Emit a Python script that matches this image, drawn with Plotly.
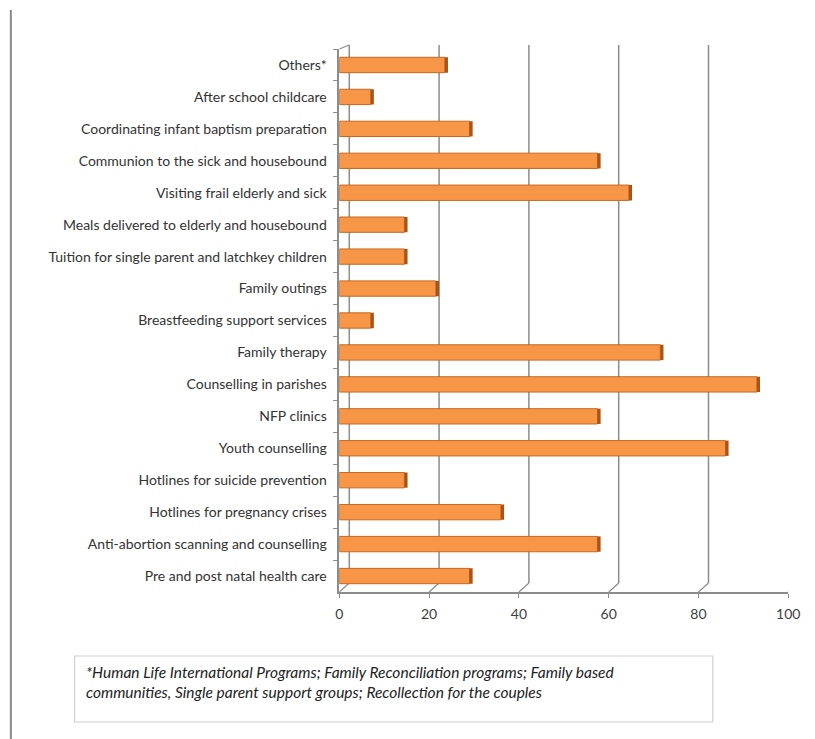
import plotly.graph_objects as go

categories = [
    "Others*",
    "After school childcare",
    "Coordinating infant baptism preparation",
    "Communion to the sick and housebound",
    "Visiting frail elderly and sick",
    "Meals delivered to elderly and housebound",
    "Tuition for single parent and latchkey children",
    "Family outings",
    "Breastfeeding support services",
    "Family therapy",
    "Counselling in parishes",
    "NFP clinics",
    "Youth counselling",
    "Hotlines for suicide prevention",
    "Hotlines for pregnancy crises",
    "Anti-abortion scanning and counselling",
    "Pre and post natal health care",
]
values = [23.5, 7, 29, 57.5, 64.5, 14.5, 14.5, 21.5, 7, 71.5, 93, 57.5, 86, 14.5, 36, 57.5, 29]
x_ticks = [0, 20, 40, 60, 80, 100]
footnote = ("*Human Life International Programs; Family Reconciliation programs; Family based<br>"
            "communities, Single parent support groups; Recollection for the couples")

W, H = 815, 739
def px(x):
    return x / W
def py(y):
    return 1 - y / H

FONT = "Lato"
ORANGE = "#F79646"
EDGE = "#c8671f"
SIDE = "#a6541a"
GRID = "#8c8c8c"

fig = go.Figure()
fig.add_trace(go.Bar(
    y=categories, x=values, base=0, orientation="h",
    marker=dict(color=ORANGE, line=dict(color=EDGE, width=1)),
    width=0.48, hoverinfo="skip", showlegend=False,
))
fig.add_trace(go.Bar(
    y=categories, x=[0.7] * len(values), base=values, orientation="h",
    marker=dict(color=SIDE, line=dict(width=0)),
    width=0.48, hoverinfo="skip", showlegend=False,
))

front_bottom = 592
front_top = 49
back_bottom = 583
back_top = 45
dx = 10

shapes = []
for v in x_ticks:
    shapes.append(dict(type="line", xref="x", yref="paper", xsizemode="pixel", xanchor=v,
                       x0=dx, x1=dx, y0=py(back_bottom), y1=py(back_top),
                       line=dict(color=GRID, width=1.5), layer="below"))
    shapes.append(dict(type="line", xref="x", yref="paper", xsizemode="pixel", xanchor=v,
                       x0=0, x1=dx, y0=py(front_bottom), y1=py(back_bottom),
                       line=dict(color=GRID, width=1.2), layer="below"))
shapes.append(dict(type="line", xref="x", yref="paper", xsizemode="pixel", xanchor=0,
                   x0=0, x1=dx, y0=py(front_top), y1=py(back_top),
                   line=dict(color=GRID, width=1.2)))
shapes.append(dict(type="line", xref="paper", yref="paper",
                   x0=px(7), x1=px(7), y0=py(10), y1=0,
                   line=dict(color="#8a8a8a", width=2)))
shapes.append(dict(type="rect", xref="paper", yref="paper",
                   x0=px(72), x1=px(723), y0=py(722), y1=py(656),
                   line=dict(color="#cfcfcf", width=1.2), fillcolor="white"))

fig.add_annotation(
    xref="paper", yref="paper", x=px(82), y=py(661), xanchor="left", yanchor="top",
    text="<i>" + footnote + "</i>", showarrow=False, align="left",
    font=dict(family=FONT, size=15.5, color="#222222"),
)

fig.update_layout(
    width=W, height=H,
    margin=dict(l=0, r=0, t=0, b=0),
    paper_bgcolor="white", plot_bgcolor="rgba(0,0,0,0)",
    barmode="overlay",
    shapes=shapes,
    xaxis=dict(
        domain=[px(342), px(800)], range=[0, 100],
        tickvals=x_ticks, ticktext=[str(t) for t in x_ticks],
        showgrid=False, zeroline=False,
        showline=True, linecolor=GRID, linewidth=1.5,
        ticks="outside", ticklen=4, tickcolor=GRID,
        tickfont=dict(family=FONT, size=14, color="#404040"),
        ticklabelstandoff=4,
        fixedrange=True,
    ),
    yaxis=dict(
        domain=[py(front_bottom), py(front_top)],
        autorange="reversed",
        showgrid=False, zeroline=False,
        showline=True, linecolor=GRID, linewidth=1.5,
        ticks="outside", ticklen=5, tickcolor=GRID, tickson="boundaries",
        tickfont=dict(family=FONT, size=14, color="#333333"),
        ticklabelstandoff=8,
        fixedrange=True,
    ),
)

post = ("document.documentElement.style.overflow='hidden';"
        "document.body.style.overflow='hidden';"
        "document.body.style.margin='0';document.body.style.padding='0';"
        "document.documentElement.style.margin='0';")
fig.write_html("out.html", post_script=post, config={"displayModeBar": False})
